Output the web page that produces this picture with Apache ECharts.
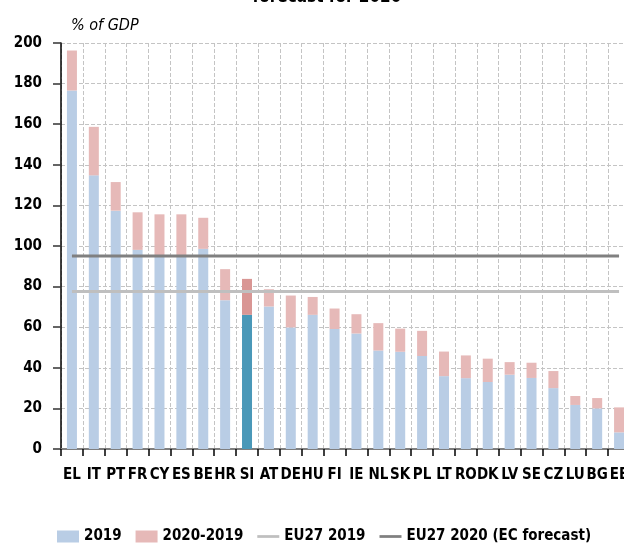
<!DOCTYPE html>
<html>
<head>
<meta charset="utf-8">
<script src="https://cdn.jsdelivr.net/npm/echarts@6/dist/echarts.min.js"></script>
<style>
  html, body { margin: 0; padding: 0; background: #fff; }
  #chart { width: 624px; height: 544px; }
</style>
</head>
<body>
<div id="chart"></div>
<script>
// ====== General government debt, % of GDP ======
var countries = ['EL', 'IT', 'PT', 'FR', 'CY', 'ES', 'BE', 'HR', 'SI', 'AT', 'DE', 'HU', 'FI',
  'IE', 'NL', 'SK', 'PL', 'LT', 'RO', 'DK', 'LV', 'SE', 'CZ', 'LU', 'BG', 'EE'];
var debt2019 = [176.6, 134.8, 117.4, 98.1, 95.0, 95.0, 98.6, 73.3, 66.1, 70.2, 59.9, 66.1, 59.1,
  56.9, 48.5, 47.9, 45.8, 35.9, 34.9, 33.0, 36.6, 35.0, 30.0, 21.7, 20.0, 8.2];
var change2020 = [19.7, 23.9, 14.1, 18.5, 20.6, 20.6, 15.3, 15.3, 17.7, 8.5, 15.7, 8.8, 10.1,
  9.5, 13.5, 11.4, 12.4, 12.1, 11.2, 11.5, 6.2, 7.5, 8.4, 4.4, 5.1, 12.3];
var eu2019 = 77.6;
var eu2020 = 95.1;
var highlight = 'SI';

var font = "'DejaVu Sans Condensed', 'Liberation Sans', sans-serif";
var blue = '#b9cde5', pink = '#e6b9b8';
var blueHi = '#4a98b8', pinkHi = '#d99694';
var lineIcon = 'path://M0,0 L24,0 L24,3 L0,3 Z';

function colored(values, hi) {
  return values.map(function(v, i) {
    if (countries[i] === highlight) return { value: v, itemStyle: { color: hi } };
    return v;
  });
}

var chart = echarts.init(document.getElementById('chart'), null, { renderer: 'canvas' });

chart.setOption({
  animation: false,
  title: {
    text: 'forecast for 2020',
    left: 322, top: -16,
    textAlign: 'center',
    textStyle: { fontFamily: font, fontSize: 17, fontWeight: 'bold', color: '#000' }
  },
  legend: {
    left: 52, top: 524,
    itemWidth: 22, itemHeight: 12, itemGap: 14,
    textStyle: { fontFamily: font, fontSize: 15, fontWeight: 'bold', color: '#000' },
    data: [
      { name: '2019', icon: 'rect' },
      { name: '2020-2019', icon: 'rect' },
      { name: 'EU27 2019', icon: lineIcon },
      { name: 'EU27 2020 (EC forecast)', icon: lineIcon }
    ]
  },
  // plot runs past the right edge of the picture, as in the source image
  grid: { left: 61, top: 43, right: -6, bottom: 95, outerBoundsMode: 'none' },
  xAxis: {
    type: 'category',
    data: countries,
    axisLine: { lineStyle: { color: '#7f7f7f', width: 2 } },
    axisTick: { show: true, length: 7, lineStyle: { color: '#000', width: 1.5 } },
    axisLabel: { fontFamily: font, fontSize: 15, fontWeight: 'bold', color: '#000', margin: 19, interval: 0 },
    splitLine: { show: true, interval: 0, lineStyle: { color: '#c4c4c4', type: 'dashed', width: 1 } }
  },
  yAxis: {
    type: 'value',
    min: 0, max: 200, interval: 20,
    name: '% of GDP',
    nameLocation: 'end',
    nameGap: 9,
    nameTextStyle: { fontFamily: font, fontSize: 16, fontStyle: 'italic', color: '#000', align: 'left', padding: [0, 0, 0, 10] },
    axisLine: { show: true, lineStyle: { color: '#000', width: 1.5 } },
    axisTick: { show: true, length: 8, lineStyle: { color: '#333', width: 1.5 } },
    axisLabel: { fontFamily: font, fontSize: 15, fontWeight: 'bold', color: '#000', margin: 19 },
    splitLine: { lineStyle: { color: '#c4c4c4', type: 'dashed', width: 1 } }
  },
  series: [
    {
      name: '2019', type: 'bar', stack: 'debt',
      barWidth: 10,
      itemStyle: { color: blue },
      data: colored(debt2019, blueHi)
    },
    {
      name: '2020-2019', type: 'bar', stack: 'debt',
      barWidth: 10,
      itemStyle: { color: pink },
      data: colored(change2020, pinkHi)
    },
    {
      name: 'EU27 2019', type: 'line', symbol: 'none', z: 5,
      lineStyle: { color: '#bfbfbf', width: 3 },
      itemStyle: { color: '#bfbfbf' },
      data: countries.map(function() { return eu2019; })
    },
    {
      name: 'EU27 2020 (EC forecast)', type: 'line', symbol: 'none', z: 5,
      lineStyle: { color: '#808080', width: 3 },
      itemStyle: { color: '#808080' },
      data: countries.map(function() { return eu2020; })
    }
  ]
});
</script>
</body>
</html>
